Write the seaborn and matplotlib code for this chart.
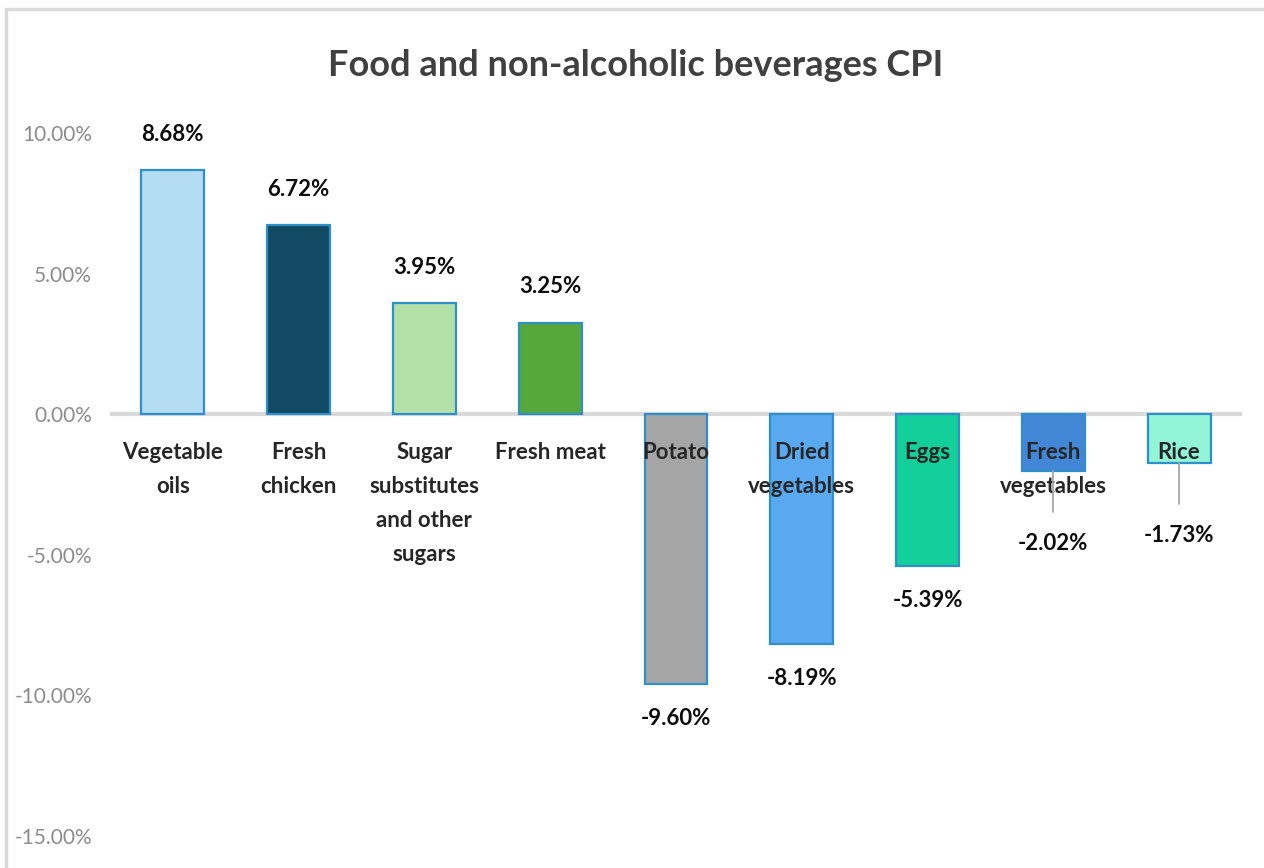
import pandas as pd
import matplotlib.pyplot as plt
import seaborn as sns
from matplotlib.patches import Rectangle
import matplotlib.ticker as ticker

categories = ['Vegetable\noils', 'Fresh\nchicken', 'Sugar\nsubstitutes\nand other\nsugars',
              'Fresh meat', 'Potato', 'Dried\nvegetables', 'Eggs', 'Fresh\nvegetables', 'Rice']
values = [8.68, 6.72, 3.95, 3.25, -9.60, -8.19, -5.39, -2.02, -1.73]
colors = ['#B4DCF2', '#134A63', '#B3E0A6', '#56A83C', '#A5A5A5',
          '#5AA8F0', '#13CF9A', '#4286D6', '#93F5D8']
yticks = [-15, -10, -5, 0, 5, 10]

sns.set_theme(style='white')
plt.rcParams['font.family'] = ['Lato', 'DejaVu Sans']

df = pd.DataFrame({'cat': categories, 'val': values})

fig = plt.figure(figsize=(12.64, 8.68), dpi=100)
ax = fig.add_axes([0.087, 0.0369, 0.8956, 0.8099])

sns.barplot(data=df, x='cat', y='val', hue='cat', palette=colors, legend=False,
            saturation=1, width=0.5, edgecolor='#2E8FCB', linewidth=1.6, ax=ax)

ax.set_xlim(-0.5, len(categories) - 0.5)
ax.set_ylim(-15, 10)
ax.set_yticks(yticks)
ax.yaxis.set_major_formatter(ticker.FuncFormatter(lambda v, p: f'{v:.2f}%'))
ax.tick_params(axis='y', labelsize=15, labelcolor='#8C8C8C', length=0, pad=13)
ax.set_xticks([])
ax.set_xlabel('')
ax.set_ylabel('')
for s in ax.spines.values():
    s.set_visible(False)
ax.axhline(0, color='#D9D9D9', lw=3, zorder=0)

# category labels just under the zero line
for i, c in enumerate(categories):
    ax.text(i, -1.0, c, ha='center', va='top', fontsize=16, fontweight='bold',
            color='#262626', linespacing=1.75, zorder=5)

# value labels
for i, v in enumerate(values):
    if v >= 0:
        ax.text(i, v + 1.28, f'{v:.2f}%', ha='center', va='center',
                fontsize=16, fontweight='bold', color='#0D0D0D')
    elif v > -3:
        ly = v - 2.57
        ax.plot([i, i], [v, ly + 1.12], color='#A6A6A6', lw=1.3, zorder=6)
        ax.text(i, ly, f'{v:.2f}%', ha='center', va='center',
                fontsize=16, fontweight='bold', color='#0D0D0D')
    else:
        ax.text(i, v - 1.22, f'{v:.2f}%', ha='center', va='center',
                fontsize=16, fontweight='bold', color='#0D0D0D')

fig.text(0.503, 0.925, 'Food and non-alcoholic beverages CPI', ha='center', va='center',
         fontsize=26, fontweight='bold', color='#404040')

fig.patches.append(Rectangle((0.005, -0.02), 1.02, 1.01, transform=fig.transFigure,
                             fill=False, edgecolor='#D9D9D9', lw=2.5))

plt.savefig('out.png', dpi=100)
plt.close()
